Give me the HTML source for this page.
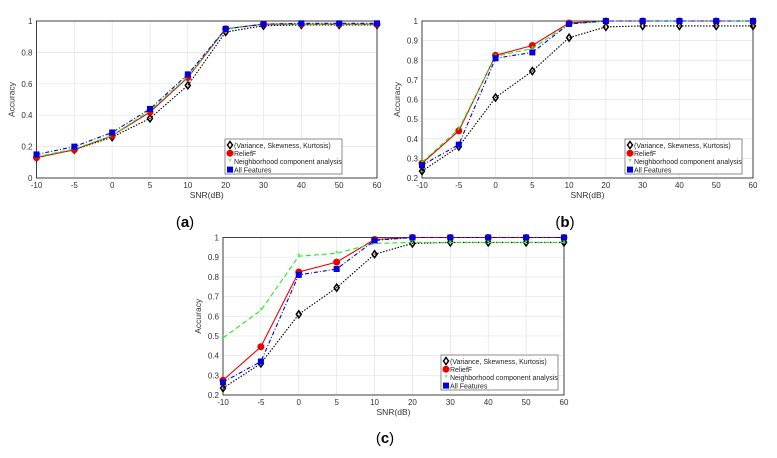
<!DOCTYPE html>
<html><head><meta charset="utf-8"><style>
body{margin:0;background:#fff;width:777px;height:453px;overflow:hidden;font-family:"Liberation Sans",sans-serif}
svg text{font-family:"Liberation Sans",sans-serif}
</style></head><body>
<svg id="s" width="777" height="453">
<text x="185" y="227" font-family="Liberation Serif" font-size="15" text-anchor="middle">(<tspan font-weight="bold">a</tspan>)</text>
<text x="565" y="227" font-family="Liberation Serif" font-size="15" text-anchor="middle">(<tspan font-weight="bold">b</tspan>)</text>
<text x="385" y="443" font-family="Liberation Serif" font-size="15" text-anchor="middle">(<tspan font-weight="bold">c</tspan>)</text>
</svg>
<script>
const categories=["-10","-5","0","5","10","20","30","40","50","60"];
const seriesNames=["(Variance, Skewness, Kurtosis)","ReliefF","Neighborhood component analysis","All Features"];
const aBlack=[.13,.18,.26,.38,.59,.93,.97,.975,.975,.975];
const aRed=[.13,.18,.27,.42,.64,.95,.98,.98,.98,.98];
const aGreen=[.135,.185,.27,.43,.645,.95,.98,.98,.98,.98];
const aBlue=[.15,.20,.29,.44,.66,.95,.98,.985,.985,.985];
const bBlack=[.235,.36,.61,.745,.915,.97,.975,.975,.975,.975];
const bRed=[.275,.44,.825,.875,.99,1,1,1,1,1];
const bGreen=[.28,.45,.82,.86,.985,1,1,1,1,1];
const bBlue=[.265,.37,.81,.84,.985,1,1,1,1,1];
const cBlack=[.235,.36,.61,.745,.915,.97,.975,.975,.975,.975];
const cRed=[.275,.445,.825,.875,.99,1,1,1,1,1];
const cGreen=[.49,.63,.905,.92,.97,.975,.975,.975,.975,.975];
const cBlue=[.265,.37,.81,.84,.985,1,1,1,1,1];
const aTicks=[0,.2,.4,.6,.8,1];
const bTicks=[.2,.3,.4,.5,.6,.7,.8,.9,1];
const NS="http://www.w3.org/2000/svg";
const svg=document.getElementById('s');
function mk(tag,attrs,parent){const e=document.createElementNS(NS,tag);for(const k in attrs)e.setAttribute(k,attrs[k]);(parent||svg).appendChild(e);return e;}
const styles=[{c:"#000",d:"1.5,1.5",m:"diamond"},{c:"#e00",d:"",m:"circle"},{c:"#2e2",d:"5,3",m:"star"},{c:"#00d",d:"4,2,1,2",m:"square"}];
function marker(g,m,x,y,c){
  let e;
  if(m==="diamond")e=mk('polygon',{points:`${x},${y-3.5} ${x+2.5},${y} ${x},${y+3.5} ${x-2.5},${y}`,fill:"none",stroke:c,'stroke-width':1.5},g);
  else if(m==="circle")e=mk('circle',{cx:x,cy:y,r:3,fill:c,stroke:c},g);
  else if(m==="square")e=mk('rect',{x:x-3,y:y-3,width:6,height:6,fill:c},g);
  else e=mk('text',{x:x,y:y+3,'font-size':8,'text-anchor':'middle',fill:c},g),e.textContent="*";
  
  
}
function chart(id,x0,x1,y0,y1,ymin,ticks,series,legend){
  const g=mk('g',{});
  
  
  const xs=i=>x0+(x1-x0)*i/(categories.length-1);
  const ys=v=>y1-(y1-y0)*(v-ymin)/(1-ymin);
  mk('rect',{x:x0,y:y0,width:x1-x0,height:y1-y0,fill:"#fff",stroke:"#222",'stroke-width':0.8},g);
  ticks.forEach(t=>{const y=ys(t);
    const l=mk('line',{x1:x0,x2:x1,y1:y,y2:y,stroke:"#e4e4e4",'stroke-width':0.7},g);
    
    const tx=mk('text',{x:x0-4,y:y+3,'font-size':8,'text-anchor':'end',fill:"#333"},g);
    
    tx.textContent=String(t);});
  categories.forEach((c,i)=>{const x=xs(i);
    mk('line',{x1:x,x2:x,y1:y0,y2:y1,stroke:"#e4e4e4",'stroke-width':0.7},g);
    const tx=mk('text',{x:x,y:y1+10,'font-size':8,'text-anchor':'middle',fill:"#333"},g);
    
    tx.textContent=c;});
  mk('rect',{x:x0,y:y0,width:x1-x0,height:y1-y0,fill:"none",stroke:"#222",'stroke-width':0.8},g);
  const xt=mk('text',{x:(x0+x1)/2,y:y1+20,'font-size':8.5,'text-anchor':'middle',fill:"#333"},g);
  xt.textContent="SNR(dB)";
  const yt=mk('text',{x:0,y:0,'font-size':8.5,'text-anchor':'middle',fill:"#333",transform:`translate(${x0-22},${(y0+y1)/2}) rotate(-90)`},g);
  yt.textContent="Accuracy";
  series.forEach((s,k)=>{const st=styles[k];
    const p=mk('polyline',{points:s.map((v,i)=>xs(i)+","+ys(v)).join(" "),fill:"none",stroke:st.c,'stroke-width':1.1,'stroke-dasharray':st.d},g);
    
    s.forEach((v,i)=>marker(g,st.m,xs(i),ys(v),st.c));});
  const [lx,ly]=legend;
  const lg=mk('g',{},g);
  
  mk('rect',{x:lx,y:ly,width:117,height:35,fill:"#fff",stroke:"#444",'stroke-width':0.6},lg);
  seriesNames.forEach((n,k)=>{const yy=ly+6+k*8.2;
    marker(lg,styles[k].m,lx+5,yy,styles[k].c);
    const t=mk('text',{x:lx+9,y:yy+2.8,'font-size':7,fill:"#222"},lg);
    
    t.textContent=n;});
}
chart('a',36.5,377,21,178,0,aTicks,[aBlack,aRed,aGreen,aBlue],[225,139]);
chart('b',422,753,21,178,0.2,bTicks,[bBlack,bRed,bGreen,bBlue],[625,139]);
chart('c',223,564,237.5,395,0.2,bTicks,[cBlack,cRed,cGreen,cBlue],[441,355]);
</script>
</body></html>
